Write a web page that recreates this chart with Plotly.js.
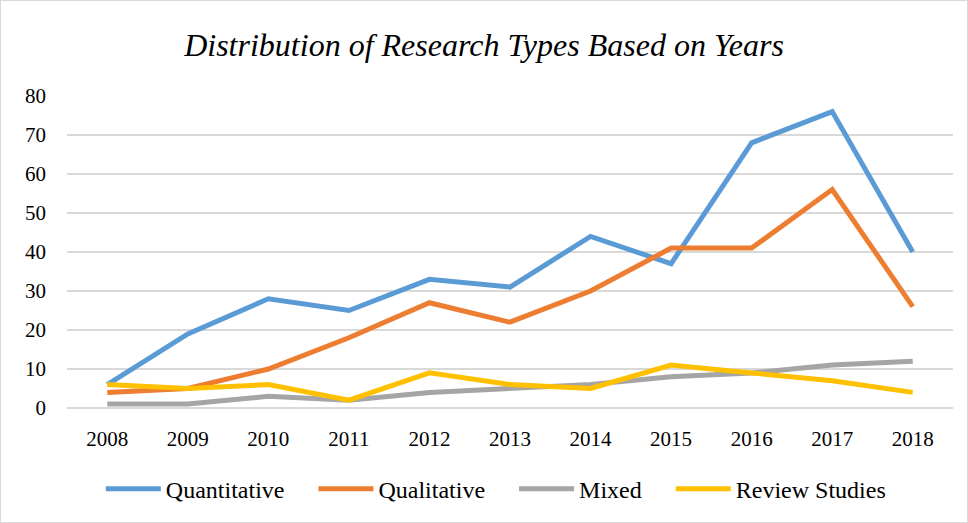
<!DOCTYPE html>
<html>
<head>
<meta charset="utf-8">
<script src="https://cdn.plot.ly/plotly-3.0.1.min.js"></script>
<style>
  html, body { margin: 0; padding: 0; background: #fff; }
  #chart { width: 968px; height: 523px; box-sizing: border-box; border: 1px solid #d9d9d9; }
</style>
</head>
<body>
<div id="chart"></div>
<script>
const years = ["2008", "2009", "2010", "2011", "2012", "2013", "2014", "2015", "2016", "2017", "2018"];
const quantitative = [6, 19, 28, 25, 33, 31, 44, 37, 68, 76, 40];
const qualitative = [4, 5, 10, 18, 27, 22, 30, 41, 41, 56, 26];
const mixed = [1, 1, 3, 2, 4, 5, 6, 8, 9, 11, 12];
const reviewStudies = [6, 5, 6, 2, 9, 6, 5, 11, 9, 7, 4];

const serif = "Liberation Serif";
// non-breaking spaces widen the gap between legend entries
const pad = "\u00a0\u00a0\u00a0\u00a0";

const makeLine = (name, values, color) => ({
  type: "scatter",
  mode: "lines",
  name: name,
  x: years,
  y: values,
  line: { color: color, width: 5 },
  hoverinfo: "x+y+name",
});

const traces = [
  makeLine("Quantitative" + pad, quantitative, "#5B9BD5"),
  makeLine("Qualitative" + pad, qualitative, "#ED7D31"),
  makeLine("Mixed" + pad, mixed, "#A5A5A5"),
  makeLine("Review Studies", reviewStudies, "#FFC000"),
];

const layout = {
  width: 966,
  height: 521,
  margin: { l: 66, r: 14, t: 95, b: 114, autoexpand: false },
  paper_bgcolor: "#fff",
  plot_bgcolor: "#fff",
  font: { family: serif, size: 21, color: "#000" },
  title: {
    text: "Distribution of Research Types Based on Years",
    font: { family: serif, size: 32, color: "#000", style: "italic" },
    x: 0.5,
    xanchor: "center",
    y: 0.915,
    yanchor: "middle",
  },
  xaxis: {
    type: "category",
    range: [-0.5, 10.5],
    showgrid: false,
    zeroline: false,
    showline: false,
    ticks: "",
    ticklabelstandoff: 16,
    tickfont: { family: serif, size: 21, color: "#000" },
  },
  yaxis: {
    range: [0, 80],
    dtick: 10,
    showgrid: true,
    gridcolor: "#d9d9d9",
    gridwidth: 1.5,
    zeroline: true,
    zerolinecolor: "#d9d9d9",
    zerolinewidth: 1.5,
    showline: false,
    ticks: "",
    ticklabelstandoff: 20,
    tickfont: { family: serif, size: 21, color: "#000" },
  },
  showlegend: true,
  legend: {
    orientation: "h",
    x: 0.484,
    xanchor: "center",
    y: -0.26,
    yanchor: "middle",
    itemwidth: 55,
    font: { family: serif, size: 24, color: "#000" },
    bgcolor: "rgba(0,0,0,0)",
  },
};

Plotly.newPlot("chart", traces, layout, { displayModeBar: false, responsive: false });
</script>
</body>
</html>
